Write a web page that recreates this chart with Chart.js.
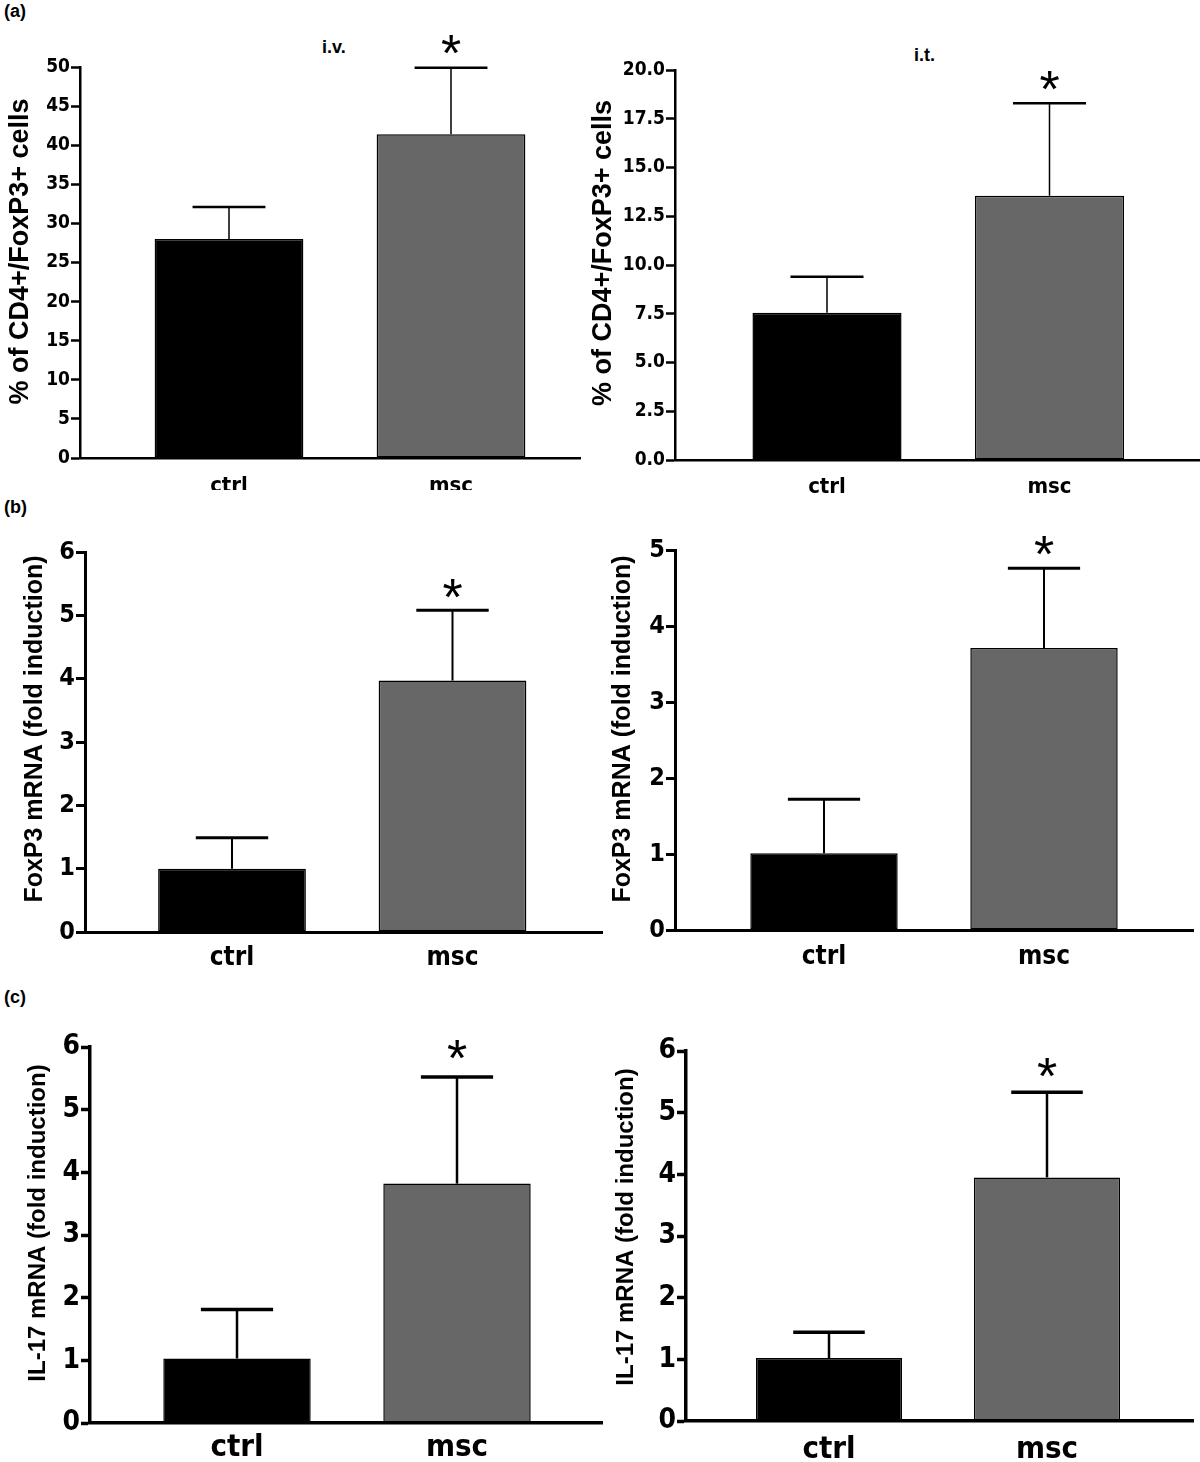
<!DOCTYPE html>
<html>
<head>
<meta charset="utf-8">
<script src="https://cdn.jsdelivr.net/npm/chart.js@4.4.0/dist/chart.umd.min.js"></script>
<style>
  body { margin: 0; background: #fff; }
  #fig { position: relative; width: 1200px; height: 1462px; overflow: hidden; background: #fff; }
  #fig canvas { position: absolute; }
  .lbl { position: absolute; font-family: 'Liberation Sans', Arial, sans-serif; font-weight: bold; color: #000; white-space: nowrap; }
</style>
</head>
<body>
<div id="fig">
  <div class="lbl" style="left:4px;top:1px;font-size:18px">(a)</div>
  <div class="lbl" style="left:4px;top:497px;font-size:18px">(b)</div>
  <div class="lbl" style="left:4px;top:987px;font-size:18px">(c)</div>
  <div class="lbl" style="left:322px;top:37px;font-size:18px">i.v.</div>
  <div class="lbl" style="left:914px;top:45px;font-size:18px">i.t.</div>
</div>
<script>
const categories = ['ctrl', 'msc'];
const barColors = ['#000000', '#676767'];
const significant = [false, true];

// (a) % of CD4+/FoxP3+ cells, i.v. and i.t.
const ivTreg = [28.0, 41.4];
const ivTregSem = [4.1, 8.5];
const ivTregTicks = [0, 5, 10, 15, 20, 25, 30, 35, 40, 45, 50];
const itTreg = [7.55, 13.55];
const itTregSem = [1.85, 4.75];
const itTregTicks = [0, 2.5, 5, 7.5, 10, 12.5, 15, 17.5, 20];

// (b) FoxP3 mRNA
const ivFoxp3 = [1.0, 3.97];
const ivFoxp3Sem = [0.49, 1.11];
const itFoxp3 = [1.01, 3.71];
const itFoxp3Sem = [0.71, 1.05];
const ivFoxp3Ticks = [0, 1, 2, 3, 4, 5, 6];
const itFoxp3Ticks = [0, 1, 2, 3, 4, 5];

// (c) IL-17 mRNA
const ivIl17 = [1.03, 3.82];
const ivIl17Sem = [0.78, 1.7];
const itIl17 = [1.02, 3.95];
const itIl17Sem = [0.42, 1.38];
const il17Ticks = [0, 1, 2, 3, 4, 5, 6];

const narrow = "'Liberation Sans Narrow', 'Arial Narrow', 'DejaVu Sans Condensed', sans-serif";
const sans = "'Liberation Sans', Arial, sans-serif";

// layout of each panel in page pixels: box = canvas, plot = [left, top, right, bottom]
const panels = [
  { values: ivTreg, sem: ivTregSem, ticks: ivTregTicks, decimals: 0, title: '% of CD4+/FoxP3+ cells',
    box: [0, 0, 590, 490], plot: [80, 67, 580, 458], centers: [229, 451],
    tickFont: 19, titleFont: 27, titleX: 21, titleShift: -11, labelFont: 22, labelY: 486,
    axisW: 2.5, stemW: 1.5, capW: 2.5, starGap: 23, starSize: 52 },
  { values: itTreg, sem: itTregSem, ticks: itTregTicks, decimals: 1, title: '% of CD4+/FoxP3+ cells',
    box: [580, 0, 620, 505], plot: [675, 70, 1200, 460], centers: [827, 1049.5],
    tickFont: 19, titleFont: 27, titleX: 604, titleShift: -12, labelFont: 22, labelY: 487,
    axisW: 2.5, stemW: 1.5, capW: 2.5, starGap: 23, starSize: 52 },
  { values: ivFoxp3, sem: ivFoxp3Sem, ticks: ivFoxp3Ticks, decimals: 0, title: 'FoxP3 mRNA (fold induction)',
    box: [0, 495, 620, 490], plot: [85, 552, 602, 932], centers: [232, 452.5],
    tickFont: 25, titleFont: 25, titleX: 35, titleShift: -13, labelFont: 26, labelY: 958,
    axisW: 3, stemW: 2, capW: 3, starGap: 22, starSize: 52 },
  { values: itFoxp3, sem: itFoxp3Sem, ticks: itFoxp3Ticks, decimals: 0, title: 'FoxP3 mRNA (fold induction)',
    box: [600, 495, 600, 490], plot: [675, 550, 1193, 930], centers: [824, 1044],
    tickFont: 25, titleFont: 25, titleX: 623, titleShift: -11, labelFont: 26, labelY: 957,
    axisW: 3, stemW: 2, capW: 3, starGap: 23, starSize: 52 },
  { values: ivIl17, sem: ivIl17Sem, ticks: il17Ticks, decimals: 0, title: 'IL-17 mRNA (fold induction)',
    box: [0, 985, 620, 477], plot: [90, 1047, 602, 1423], centers: [237, 457],
    tickFont: 28, titleFont: 24, titleX: 38, titleShift: -12, labelFont: 31, labelY: 1448,
    axisW: 3.5, stemW: 2.5, capW: 3.5, starGap: 28, starSize: 52 },
  { values: itIl17, sem: itIl17Sem, ticks: il17Ticks, decimals: 0, title: 'IL-17 mRNA (fold induction)',
    box: [600, 985, 600, 477], plot: [686, 1051, 1193, 1421], centers: [829, 1047],
    tickFont: 28, titleFont: 24, titleX: 626, titleShift: -9, labelFont: 31, labelY: 1450,
    axisW: 3.5, stemW: 2.5, capW: 3.5, starGap: 25, starSize: 52 }
];

// upper error bars, significance star and the rotated y title
const errorBars = {
  id: 'errorBars',
  afterDatasetsDraw(chart, args, opts) {
    const ctx = chart.ctx;
    const y = chart.scales.y;
    const meta = chart.getDatasetMeta(0);
    const ds = chart.data.datasets[0];
    ctx.save();
    ctx.strokeStyle = '#000';
    ctx.fillStyle = '#000';
    meta.data.forEach((bar, i) => {
      const yCap = y.getPixelForValue(ds.data[i].y + ds.sem[i]);
      const half = bar.width * 0.245;
      ctx.lineWidth = opts.stemW;
      ctx.beginPath();
      ctx.moveTo(bar.x, bar.y);
      ctx.lineTo(bar.x, yCap);
      ctx.stroke();
      ctx.lineWidth = opts.capW;
      ctx.beginPath();
      ctx.moveTo(bar.x - half, yCap);
      ctx.lineTo(bar.x + half, yCap);
      ctx.stroke();
      if (significant[i]) {
        ctx.font = opts.starSize + 'px ' + sans;
        ctx.textAlign = 'center';
        ctx.textBaseline = 'alphabetic';
        const m = ctx.measureText('*');
        const mid = (m.actualBoundingBoxAscent - m.actualBoundingBoxDescent) / 2;
        ctx.fillText('*', bar.x, yCap - opts.starGap + mid);
      }
    });
    // y axis title, a little above the axis centre as in the figure
    const area = chart.chartArea;
    ctx.translate(opts.titleX, (area.top + area.bottom) / 2 + opts.titleShift);
    ctx.rotate(-Math.PI / 2);
    ctx.font = 'bold ' + opts.titleFont + 'px ' + sans;
    ctx.textAlign = 'center';
    ctx.textBaseline = 'middle';
    ctx.fillText(opts.title, 0, 0);
    ctx.restore();
  }
};

const fig = document.getElementById('fig');

panels.forEach((p) => {
  const [cx, cy, cw, ch] = p.box;
  const [left, top, right, bottom] = p.plot;
  const unit = p.centers[1] - p.centers[0];
  const xMin = 1 - (p.centers[0] - left) / unit;
  const xMax = 2 + (right - p.centers[1]) / unit;

  const canvas = document.createElement('canvas');
  canvas.width = cw;
  canvas.height = ch;
  canvas.style.left = cx + 'px';
  canvas.style.top = cy + 'px';
  fig.appendChild(canvas);

  new Chart(canvas, {
    type: 'bar',
    data: {
      datasets: [{
        data: p.values.map((v, i) => ({ x: i + 1, y: v })),
        sem: p.sem,
        backgroundColor: barColors,
        borderColor: '#000',
        borderWidth: 1.5,
        borderSkipped: false,
        barPercentage: 0.67,
        categoryPercentage: 1
      }]
    },
    options: {
      responsive: false,
      animation: false,
      layout: { padding: { left: 0, top: top - cy, right: cx + cw - right, bottom: 0 } },
      plugins: {
        legend: { display: false },
        tooltip: { enabled: false },
        errorBars: {
          stemW: p.stemW, capW: p.capW, starGap: p.starGap, starSize: p.starSize,
          title: p.title, titleFont: p.titleFont, titleX: p.titleX - cx, titleShift: p.titleShift
        }
      },
      scales: {
        x: {
          type: 'linear',
          min: xMin,
          max: xMax,
          offset: false,
          afterBuildTicks: (s) => { s.ticks = categories.map((c, i) => ({ value: i + 1 })); },
          afterFit: (s) => { s.height = cy + ch - bottom; },
          grid: { display: false, drawTicks: false },
          border: { display: true, color: '#000', width: p.axisW },
          ticks: {
            color: '#000',
            autoSkip: false,
            maxRotation: 0,
            padding: p.labelY - bottom - 0.6 * p.labelFont,
            font: { family: narrow, size: p.labelFont, weight: 'bold' },
            callback: (v) => categories[Math.round(v) - 1]
          }
        },
        y: {
          min: 0,
          max: p.ticks[p.ticks.length - 1],
          afterBuildTicks: (s) => { s.ticks = p.ticks.map((v) => ({ value: v })); },
          afterFit: (s) => { s.width = left - cx; },
          grid: { drawOnChartArea: false, tickLength: 9, tickWidth: p.axisW, tickColor: '#000', color: '#000' },
          border: { display: true, color: '#000', width: p.axisW },
          ticks: {
            color: '#000',
            padding: 1,
            font: { family: narrow, size: p.tickFont, weight: 'bold' },
            callback: (v) => Number(v).toFixed(p.decimals)
          }
        }
      }
    },
    plugins: [errorBars]
  });
});
</script>
</body>
</html>
